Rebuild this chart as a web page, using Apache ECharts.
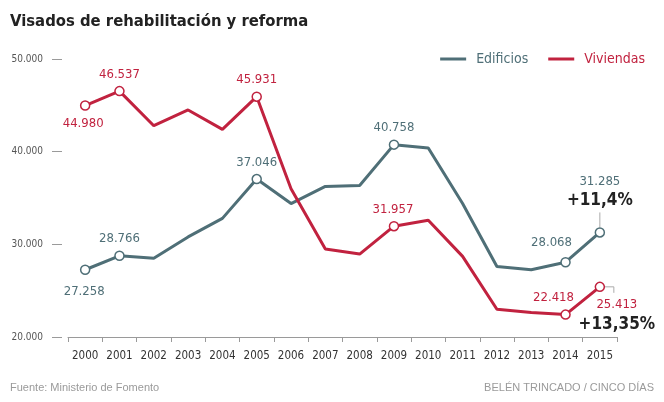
<!DOCTYPE html>
<html>
<head>
<meta charset="utf-8">
<script src="https://cdn.jsdelivr.net/npm/echarts@6/dist/echarts.min.js"></script>
<style>
html,body{margin:0;padding:0;background:#fff;}
#c{width:664px;height:402px;}
</style>
</head>
<body>
<div id="c"></div>
<script>
const years = ['2000','2001','2002','2003','2004','2005','2006','2007','2008','2009','2010','2011','2012','2013','2014','2015'];
const edificios = [27258, 28766, 28500, 30800, 32800, 37046, 34400, 36250, 36350, 40758, 40400, 34400, 27600, 27250, 28068, 31285];
const viviendas = [44980, 46537, 42800, 44500, 42400, 45931, 36000, 29500, 28950, 31957, 32600, 28700, 23000, 22650, 22418, 25413];
const yTicks = [20000, 30000, 40000, 50000];
const changeEdificios = '+11,4%';
const changeViviendas = '+13,35%';

const NARROW = "'Liberation Sans Narrow', 'DejaVu Sans Condensed', sans-serif";
const REG = "'Liberation Sans', Arial, sans-serif";
const C_EDI = '#4f6f77';
const C_VIV = '#c1223f';

function fmt(v){ return String(v).replace(/\B(?=(\d{3})+(?!\d))/g, '.'); }

// label placement per marked point (index -> style)
const ediMarks = {
  0: {position:'bottom', distance:10, offset:[-1,0]},
  1: {position:'top', distance:5},
  5: {position:'top', distance:5},
  9: {position:'top', distance:5},
  14:{position:'top', distance:5, offset:[-14,-3]},
  15:{position:'top', distance:17, rich:'top'}
};
const vivMarks = {
  0: {position:'bottom', distance:6, offset:[-2,0]},
  1: {position:'top', distance:5},
  5: {position:'top', distance:5},
  9: {position:'top', distance:5, offset:[-1,0]},
  14:{position:'top', distance:5, offset:[-12,0]},
  15:{position:'bottom', distance:4, offset:[17,0], rich:'bottom'}
};

function buildData(values, marks, color, change){
  return values.map((v, i) => {
    const m = marks[i];
    if (!m) return {value: v, symbol: 'none'};
    const lab = {
      show: true, position: m.position, distance: m.distance,
      offset: m.offset || [0,0],
      color: color, fontFamily: NARROW, fontSize: 13
    };
    if (m.rich) {
      lab.formatter = (p) => '{a|' + fmt(p.value) + '}\n{b|' + change + '}';
      lab.rich = {
        a: {color: color, fontFamily: NARROW, fontSize: 13, lineHeight: 18, align:'center'},
        b: {color: '#222', fontFamily: NARROW, fontSize: 17, fontWeight: 'bold', lineHeight: 20, align:'center'}
      };
    } else {
      lab.formatter = (p) => fmt(p.value);
    }
    return {value: v, symbol: 'circle', symbolSize: 9, label: lab};
  });
}

const chart = echarts.init(document.getElementById('c'), null, {renderer:'canvas'});
const option = {
  animation: false,
  backgroundColor: '#fff',
  title: [
    {text: 'Visados de rehabilitación y reforma', left: 5, top: 8,
     textStyle: {fontFamily: NARROW, fontSize: 16.5, fontWeight: 'bold', color: '#222'}},
    {text: 'Fuente: Ministerio de Fomento', left: 5, top: 377,
     textStyle: {fontFamily: REG, fontSize: 11, fontWeight: 'normal', color: '#9a9a9a'}},
    {text: 'BELÉN TRINCADO / CINCO DÍAS', right: 5, top: 377,
     textStyle: {fontFamily: REG, fontSize: 11, fontWeight: 'normal', color: '#9a9a9a'}}
  ],
  legend: {
    right: 14, top: 47, itemGap: 20, itemWidth: 26, itemHeight: 3, icon: 'rect',
    textStyle: {fontFamily: NARROW, fontSize: 14, padding: [0, 0, 0, 5]},
    data: [
      {name: 'Edificios', itemStyle: {color: C_EDI, borderWidth: 0}, textStyle: {color: C_EDI}},
      {name: 'Viviendas', itemStyle: {color: C_VIV, borderWidth: 0}, textStyle: {color: C_VIV}}
    ]
  },
  grid: {left: 68, right: 47, top: 59, bottom: 65, containLabel: false},
  xAxis: {
    type: 'category', data: years, boundaryGap: true,
    axisLine: {lineStyle: {color: '#9a9a9a', width: 1}},
    axisTick: {show: true, interval: 0, length: 5, lineStyle: {color: '#9a9a9a'}},
    axisLabel: {interval: 0, margin: 13, color: '#333', fontFamily: NARROW, fontSize: 11.5}
  },
  yAxis: {
    type: 'value', min: 20000, max: 50000, interval: 10000, offset: 6,
    axisLine: {show: false},
    axisTick: {show: true, length: 10, lineStyle: {color: '#9a9a9a', width: 1}},
    splitLine: {show: false},
    axisLabel: {margin: 19, color: '#555', fontFamily: NARROW, fontSize: 10,
      formatter: (v) => yTicks.includes(v) ? fmt(v) : ''}
  },
  series: [
    {name: 'Edificios', type: 'line', z: 3,
     data: buildData(edificios, ediMarks, C_EDI, changeEdificios),
     lineStyle: {color: C_EDI, width: 3}, color: C_EDI,
     itemStyle: {color: '#fff', borderColor: C_EDI, borderWidth: 1.5},
     emphasis: {disabled: true}},
    {name: 'Viviendas', type: 'line', z: 4,
     data: buildData(viviendas, vivMarks, C_VIV, changeViviendas),
     lineStyle: {color: C_VIV, width: 3}, color: C_VIV,
     itemStyle: {color: '#fff', borderColor: C_VIV, borderWidth: 1.5},
     emphasis: {disabled: true}}
  ]
};
chart.setOption(option);

// connector lines from last points to their annotations, placed via the chart's scales
const last = years.length - 1;
const pe = chart.convertToPixel({seriesIndex: 0}, [last, edificios[last]]);
const pv = chart.convertToPixel({seriesIndex: 1}, [last, viviendas[last]]);
chart.setOption({
  graphic: [
    {type: 'line', shape: {x1: pe[0], y1: pe[1] - 5, x2: pe[0], y2: pe[1] - 20},
     style: {stroke: '#aaa', lineWidth: 1}, silent: true},
    {type: 'polyline', shape: {points: [[pv[0] + 5, pv[1]], [pv[0] + 14, pv[1]], [pv[0] + 14, pv[1] + 6]]},
     style: {stroke: '#aaa', lineWidth: 1, fill: null}, silent: true}
  ]
});
</script>
</body>
</html>
